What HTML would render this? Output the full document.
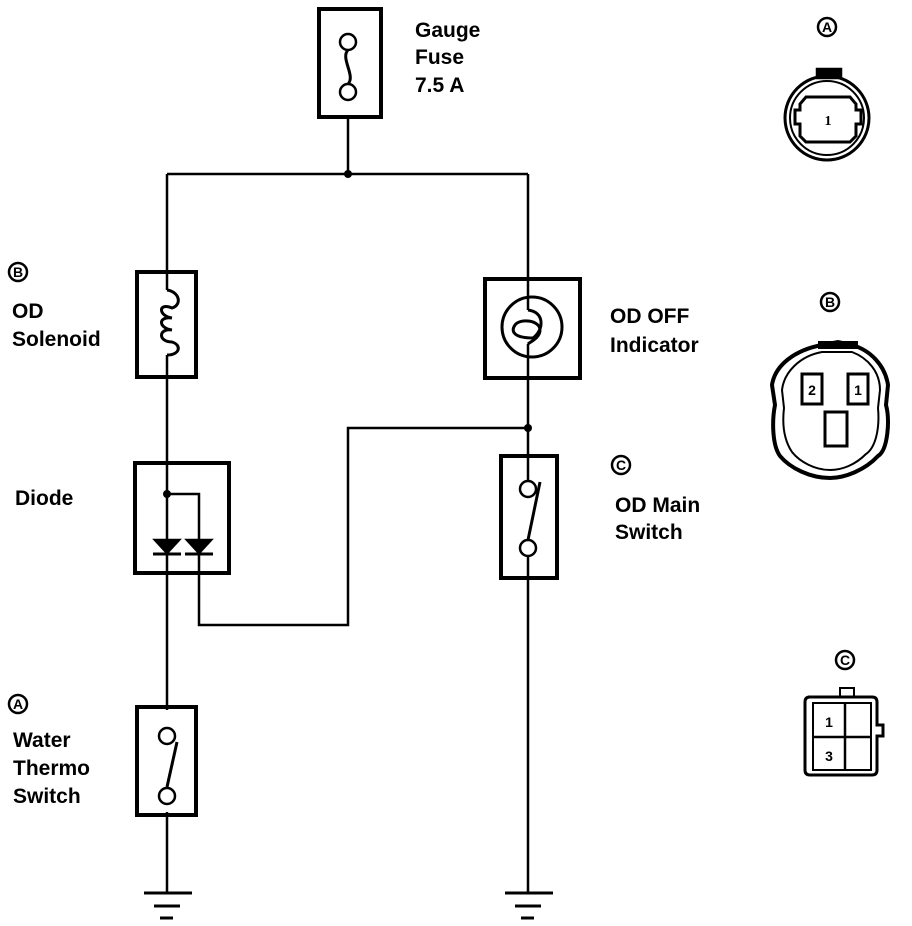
<!DOCTYPE html>
<html><head><style>
body{margin:0;background:#fff;width:912px;height:926px;overflow:hidden}
svg{display:block}
text{font-family:"Liberation Sans",sans-serif;font-size:21px;font-weight:bold;fill:#000}
.c{font-size:14px}
</style></head><body>
<svg width="912" height="926" viewBox="0 0 912 926" xmlns="http://www.w3.org/2000/svg">
<g fill="none" stroke="#000" stroke-width="2.5">
<!-- fuse -->
<rect x="319" y="9" width="62" height="108" stroke-width="4"/>
<circle cx="348" cy="42" r="8" fill="#fff"/>
<circle cx="348" cy="92" r="8" fill="#fff"/>
<path d="M348 50 C340 58 356 76 348 84" stroke-width="3"/>
<line x1="348" y1="117" x2="348" y2="174"/>
<line x1="167" y1="174" x2="528" y2="174"/>
<!-- left vertical -->
<line x1="167" y1="174" x2="167" y2="276"/>
<line x1="167" y1="372" x2="167" y2="466"/>
<line x1="167" y1="466" x2="167" y2="710"/>
<line x1="167" y1="812" x2="167" y2="893"/>
<!-- solenoid -->
<rect x="137" y="272" width="59" height="105" stroke-width="4"/>
<line x1="167" y1="276" x2="167" y2="290"/>
<line x1="167" y1="355" x2="167" y2="372"/>
<path d="M167 290 C180 292 182 305 172 308 C158 302 158 316 172 318 C158 316 158 328 172 330 C158 328 158 342 172 342 C182 345 180 355 167 355" stroke-width="3"/>
<!-- diode -->
<rect x="135" y="463" width="94" height="110" stroke-width="4"/>
<polyline points="167,494 199,494 199,625 348,625 348,428 528,428"/>
<path d="M155 540 L179 540 L167 553 Z M187 540 L211 540 L199 553 Z" fill="#000"/>
<line x1="153" y1="554" x2="181" y2="554" stroke-width="3"/>
<line x1="185" y1="554" x2="213" y2="554" stroke-width="3"/>
<!-- water thermo -->
<rect x="137" y="707" width="59" height="108" stroke-width="4"/>
<path d="M167 787 L177 742" stroke-width="3"/>
<circle cx="167" cy="736" r="8" fill="#fff"/>
<circle cx="167" cy="796" r="8" fill="#fff"/>
<!-- grounds -->
<line x1="144" y1="893" x2="192" y2="893" stroke-width="3"/>
<line x1="154" y1="906" x2="180" y2="906" stroke-width="3"/>
<line x1="160" y1="918" x2="173" y2="918" stroke-width="3"/>
<line x1="528" y1="174" x2="528" y2="893"/>
<line x1="505" y1="893" x2="553" y2="893" stroke-width="3"/>
<line x1="515" y1="906" x2="541" y2="906" stroke-width="3"/>
<line x1="521" y1="918" x2="534" y2="918" stroke-width="3"/>
<!-- indicator -->
<rect x="485" y="279" width="95" height="99" stroke-width="4" fill="#fff"/>
<circle cx="532" cy="327" r="30" stroke-width="3"/>
<line x1="528" y1="279" x2="528" y2="310"/>
<line x1="528" y1="344" x2="528" y2="378"/>
<path d="M528 310 C545 312 544 330 533 338 C515 338 510 332 515 325 C520 318 540 320 540 330 C540 338 530 342 528 344" stroke-width="3"/>
<!-- main switch -->
<rect x="501" y="456" width="56" height="122" stroke-width="4" fill="#fff"/>
<line x1="528" y1="456" x2="528" y2="480"/>
<line x1="528" y1="556" x2="528" y2="578"/>
<path d="M528 540 L540 482" stroke-width="3"/>
<circle cx="528" cy="489" r="8" fill="#fff"/>
<circle cx="528" cy="548" r="8" fill="#fff"/>
<!-- connector A -->
<circle cx="827" cy="118" r="42" stroke-width="3"/>
<circle cx="827" cy="118" r="37" stroke-width="2"/>
<rect x="817" y="69" width="24" height="9" fill="#000"/>
<path d="M806 97 L850 97 L856 104 L856 110 L861 110 L861 124 L856 124 L856 136 L850 142 L806 142 L800 136 L800 124 L795 124 L795 110 L800 110 L800 104 Z" stroke-width="3"/>
<!-- connector B -->
<path d="M822 345 L838 342 L852 345 C870 350 885 365 888 385 L886 405 C890 420 888 450 878 456 C865 470 845 478 830 478 C810 478 790 468 780 456 C772 445 772 420 775 405 L772 385 C775 365 795 350 822 345 Z" stroke-width="4"/>
<path d="M822 352 L852 352 C868 358 880 372 880 390 L878 408 C880 430 875 448 866 454 C855 465 842 470 830 470 C815 470 800 462 792 452 C784 440 782 425 784 408 L782 390 C784 372 800 356 822 352 Z" stroke-width="2"/>
<rect x="818" y="341" width="40" height="8" fill="#000" stroke="none"/>
<rect x="802" y="374" width="20" height="30" stroke-width="3"/>
<rect x="848" y="374" width="20" height="30" stroke-width="3"/>
<rect x="825" y="412" width="22" height="34" stroke-width="3"/>
<!-- connector C -->
<rect x="840" y="688" width="14" height="9" stroke-width="2"/>
<path d="M808 697 L872 697 Q877 697 877 702 L877 725 L883 725 L883 736 L877 736 L877 770 Q877 775 872 775 L810 775 Q805 775 805 770 L805 702 Q805 697 810 697 Z" stroke-width="3"/>
<rect x="813" y="703" width="58" height="67" stroke-width="2"/>
<line x1="845" y1="703" x2="845" y2="770"/>
<line x1="813" y1="737" x2="871" y2="737"/>
<!-- circled labels -->
<circle cx="827" cy="27" r="9"/>
<circle cx="18" cy="272" r="9"/>
<circle cx="18" cy="704" r="9"/>
<circle cx="621" cy="465" r="9"/>
<circle cx="830" cy="302" r="9"/>
<circle cx="845" cy="660" r="9"/>
</g>
<g fill="#000">
<circle cx="348" cy="174" r="4"/>
<circle cx="167" cy="494" r="4"/>
<circle cx="528" cy="428" r="4"/>
</g>
<g text-anchor="middle">
<text class="c" x="827" y="32">A</text>
<text class="c" x="18" y="277">B</text>
<text class="c" x="18" y="709">A</text>
<text class="c" x="621" y="470">C</text>
<text class="c" x="830" y="307">B</text>
<text class="c" x="845" y="665">C</text>
<text class="c" x="828" y="125" style="font-family:'Liberation Serif',serif">1</text>
<text class="c" x="812" y="395">2</text>
<text class="c" x="858" y="395">1</text>
<text class="c" x="829" y="727">1</text>
<text class="c" x="829" y="761">3</text>
</g>
<text x="415" y="37">Gauge</text>
<text x="415" y="64">Fuse</text>
<text x="415" y="92">7.5 A</text>
<text x="12" y="318">OD</text>
<text x="12" y="346">Solenoid</text>
<text x="15" y="505">Diode</text>
<text x="13" y="747">Water</text>
<text x="13" y="775">Thermo</text>
<text x="13" y="803">Switch</text>
<text x="610" y="323">OD OFF</text>
<text x="610" y="352">Indicator</text>
<text x="615" y="512">OD Main</text>
<text x="615" y="539">Switch</text>
</svg>
</body></html>
